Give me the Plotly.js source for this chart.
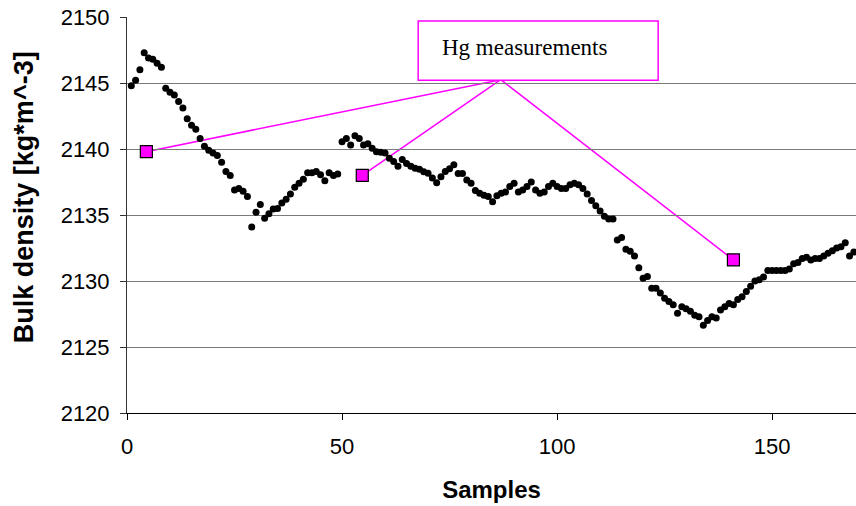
<!DOCTYPE html>
<html>
<head>
<meta charset="utf-8">
<script src="https://cdn.plot.ly/plotly-3.0.1.min.js"></script>
<style>html,body{margin:0;padding:0;background:#fff;}#chart{width:856px;height:506px;}</style>
</head>
<body>
<div id="chart"></div>
<script>
// Bulk density samples (sample number 1..169)
const densityValues = [
  2144.8, 2145.2, 2146.0, 2147.3, 2146.9, 2146.8, 2146.5, 2146.2, 2144.6, 2144.3,
  2144.1, 2143.6, 2143.1, 2142.3, 2141.8, 2141.5, 2140.8, 2140.2, 2139.9, 2139.7,
  2139.5, 2139.0, 2138.3, 2138.0, 2136.9, 2137.0, 2136.8, 2136.4, 2134.1, 2135.2,
  2135.8, 2134.75, 2135.1, 2135.45, 2135.5, 2135.9, 2136.2, 2136.6, 2137.1, 2137.4,
  2137.7, 2138.2, 2138.2, 2138.3, 2138.05, 2137.6, 2138.2, 2138.0, 2138.1, 2140.55,
  2140.8, 2140.3, 2141.0, 2140.8, 2140.3, 2140.4, 2140.05, 2139.8, 2139.75, 2139.7,
  2139.3, 2139.05, 2138.7, 2139.2, 2138.9, 2138.7, 2138.55, 2138.46, 2138.28, 2138.16,
  2137.8, 2137.45, 2137.9, 2138.3, 2138.5, 2138.8, 2138.15, 2138.15, 2137.65, 2137.4,
  2136.85, 2136.65, 2136.5, 2136.4, 2136.0, 2136.45, 2136.65, 2136.75, 2137.15, 2137.4,
  2136.75, 2136.9, 2137.15, 2137.5, 2136.9, 2136.65, 2136.75, 2137.15, 2137.4, 2137.15,
  2137.0, 2137.0, 2137.3, 2137.4, 2137.3, 2137.0, 2136.6, 2136.1, 2135.7, 2135.3,
  2134.9, 2134.7, 2134.7, 2133.1, 2133.3, 2132.4, 2132.25, 2131.9, 2131.0, 2130.2,
  2130.35, 2129.45, 2129.45, 2129.1, 2128.7, 2128.45, 2128.2, 2127.55, 2128.05, 2127.9,
  2127.7, 2127.4, 2127.3, 2126.65, 2127.0, 2127.3, 2127.2, 2127.8, 2128.05, 2128.3,
  2128.2, 2128.6, 2128.8, 2129.2, 2129.6, 2130.0, 2130.1, 2130.3, 2130.8, 2130.8,
  2130.8, 2130.8, 2130.8, 2130.9, 2131.3, 2131.4, 2131.7, 2131.8, 2131.6, 2131.7,
  2131.7, 2131.9, 2132.1, 2132.3, 2132.5, 2132.6, 2132.9, 2131.9, 2132.2
];
const sampleNumbers = densityValues.map((_, i) => i + 1);

// Hg measurement points
const hgSamples = [4.5, 54.7, 141];
const hgValues = [2139.8, 2138.0, 2131.6];
const hgLabel = "Hg measurements";
// callout box (data coords) and anchor where the leader lines meet
const calloutBoxX = [67.7, 123.5];
const calloutBoxY = [2145.2, 2149.7];
const calloutAnchor = [86.9, 2145.25];

const yTicks = [2120, 2125, 2130, 2135, 2140, 2145, 2150];
const xTicks = [0, 50, 100, 150];
const xTitle = 'Samples';
const yTitle = 'Bulk density [kg*m^-3]';

const traces = [
  {
    x: sampleNumbers, y: densityValues, type: 'scatter', mode: 'markers',
    marker: {color: '#000000', size: 7}, hoverinfo: 'x+y', showlegend: false
  },
  {
    x: hgSamples, y: hgValues, type: 'scatter', mode: 'markers',
    marker: {color: '#ff00ff', symbol: 'square', size: 12, line: {color: '#000000', width: 1.2}},
    showlegend: false
  }
];

const shapes = hgSamples.map((hx, i) => ({
  type: 'line', xref: 'x', yref: 'y', layer: 'below',
  x0: hx, y0: hgValues[i], x1: calloutAnchor[0], y1: calloutAnchor[1],
  line: {color: '#ff00ff', width: 1.5}
}));
shapes.push({
  type: 'rect', xref: 'x', yref: 'y',
  x0: calloutBoxX[0], x1: calloutBoxX[1], y0: calloutBoxY[0], y1: calloutBoxY[1],
  line: {color: '#ff00ff', width: 1.5}, fillcolor: '#ffffff'
});

const layout = {
  width: 856, height: 506,
  margin: {l: 127, r: 0, t: 17, b: 93},
  paper_bgcolor: '#ffffff', plot_bgcolor: '#ffffff',
  font: {family: 'Liberation Sans, Arial, sans-serif', color: '#000000'},
  xaxis: {
    range: [0, 169.5], tickvals: xTicks, ticktext: xTicks.map(String),
    showgrid: false, zeroline: false, showline: true, linecolor: '#000000', linewidth: 1,
    ticks: 'outside', ticklen: 6, tickcolor: '#000000', ticklabelstandoff: 8,
    tickfont: {size: 22, family: 'Liberation Sans, Arial, sans-serif'},
    title: {text: xTitle, font: {size: 24, family: 'Liberation Sans, Arial, sans-serif', weight: 'bold'}, standoff: 22}
  },
  yaxis: {
    range: [2120, 2150], tickvals: yTicks, ticktext: yTicks.map(String),
    showgrid: true, gridcolor: '#7a7a7a', gridwidth: 1, zeroline: false,
    showline: true, linecolor: '#333333', linewidth: 1,
    ticks: 'outside', ticklen: 6, tickcolor: '#333333', ticklabelstandoff: 6,
    tickfont: {size: 22, family: 'Liberation Sans, Arial, sans-serif'}
  },
  shapes: shapes,
  annotations: [{
    x: calloutBoxX[0] + 5, y: (calloutBoxY[0] + calloutBoxY[1]) / 2 + 0.25,
    xref: 'x', yref: 'y', xanchor: 'left', yanchor: 'middle',
    text: hgLabel, showarrow: false,
    font: {family: 'Liberation Serif, Times New Roman, serif', size: 23, color: '#000000'}
  }, {
    x: -0.1413, y: 0.545, xref: 'paper', yref: 'paper',
    xanchor: 'center', yanchor: 'middle', textangle: -90,
    text: yTitle, showarrow: false,
    font: {family: 'Liberation Sans, Arial, sans-serif', size: 27, weight: 'bold', color: '#000000'}
  }]
};

Plotly.newPlot('chart', traces, layout, {displayModeBar: false, staticPlot: true});
</script>
</body>
</html>
